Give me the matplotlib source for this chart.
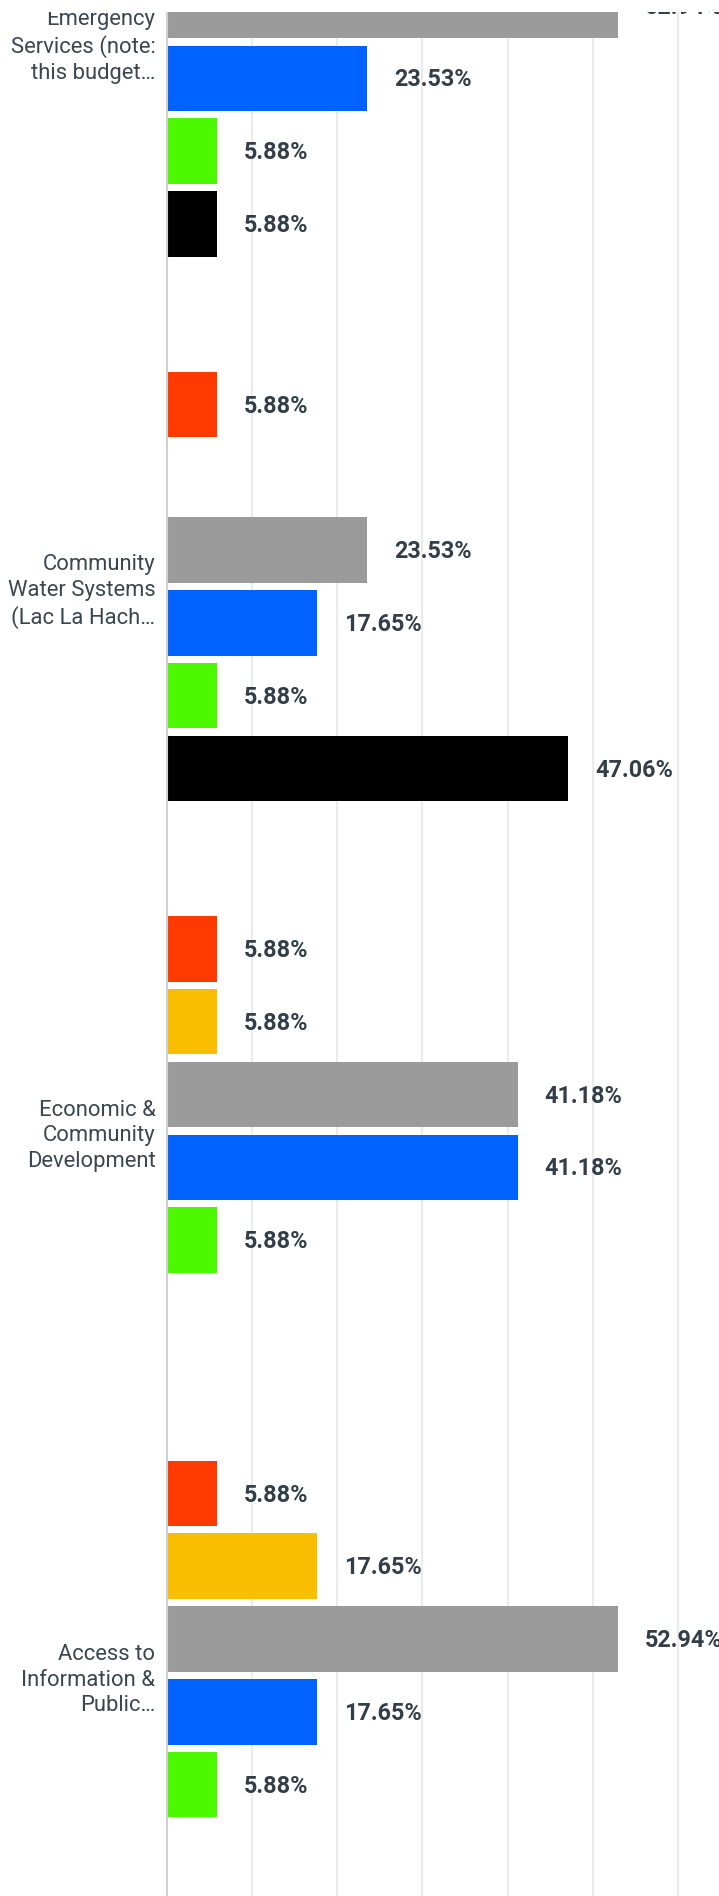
import matplotlib.pyplot as plt
from matplotlib.patches import Rectangle

# categories top to bottom (the view is a crop of a taller chart)
categorias = [
    "Emergency\nServices (note:\nthis budget\u2026",
    "Community\nWater Systems\n(Lac La Hach\u2026",
    "Economic &\nCommunity\nDevelopment",
    "Access to\nInformation &\nPublic\u2026",
]

# one list per answer series, in drawing order within each group
rojo     = [0.0, 5.88, 5.88, 5.88]
amarillo = [0.0, 0.0, 5.88, 17.65]
gris     = [52.94, 23.53, 41.18, 52.94]
azul     = [23.53, 17.65, 41.18, 17.65]
verde    = [5.88, 5.88, 5.88, 5.88]
negro    = [5.88, 47.06, 0.0, 0.0]

series = [rojo, amarillo, gris, azul, verde, negro]
colores = ['#ff3a00', '#f9be00', '#9b9b9b', '#0062ff', '#4cf900', '#000000']

paso_grupo = 7.48
alto = 0.9
texto = '#333e48'

plt.rcParams['font.family'] = ['Roboto', 'DejaVu Sans']

fig = plt.figure(figsize=(7.19, 18.96), dpi=100)
x0 = 166.5 / 719
ax = fig.add_axes([x0, 0, 1 - x0, 1])

for g in range(len(categorias)):
    for s, (vals, col) in enumerate(zip(series, colores)):
        y = g * paso_grupo + s
        v = vals[g]
        if v <= 0:
            continue
        ax.barh(y, v, height=alto, color=col, zorder=3)
        ax.annotate(f"{v:.2f}%", xy=(v, y), xytext=(19.4, -1.2),
                    textcoords='offset points', va='center', ha='left',
                    fontsize=16.8, fontweight='semibold', color=texto,
                    annotation_clip=False)

centros = [g * paso_grupo + 2.5 for g in range(len(categorias))]
ax.set_yticks(centros)
ax.set_yticklabels(categorias, fontsize=15.8, fontweight='normal',
                   color='#3b4650', linespacing=1.28)
ax.tick_params(axis='y', length=0, pad=8)

ax.set_xlim(0, (719 - 166.5) / 8.53)
ax.set_ylim(27.97, 1.924)
ax.set_xticks([10, 20, 30, 40, 50, 60])
ax.tick_params(axis='x', length=0, labelbottom=False)
ax.grid(axis='x', color='#ebebeb', linewidth=1.5, zorder=0)
ax.set_axisbelow(True)

for lado in ['top', 'right', 'bottom']:
    ax.spines[lado].set_visible(False)
ax.spines['left'].set_color('#d0d0d0')
ax.spines['left'].set_linewidth(1.5)
ax.spines['left'].set_zorder(4)

# white band over the top edge of the crop
fig.patches.append(Rectangle((0, 1 - 12 / 1896), 1, 12 / 1896,
                             transform=fig.transFigure, facecolor='white',
                             edgecolor='none', zorder=10))

fig.savefig('out.png', dpi=100)
